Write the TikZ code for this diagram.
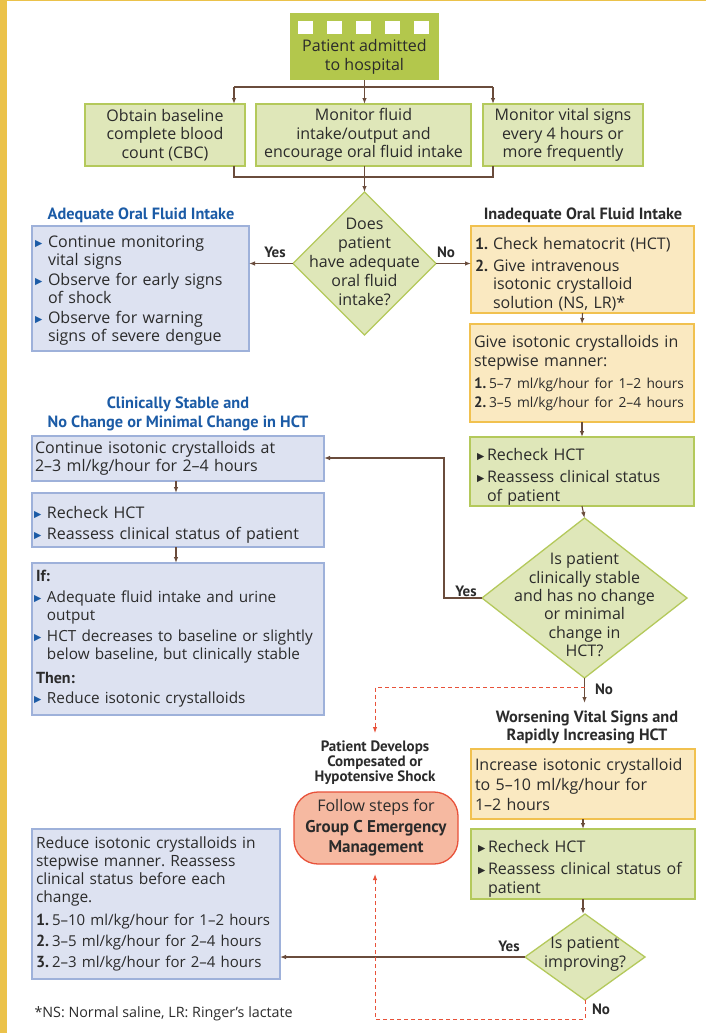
\documentclass[tikz,border=0pt]{standalone}
\usepackage{fontspec}
\setmainfont{Open Sans}[BoldFont={PT Sans Bold}]
\newfontfamily\ptbold{PT Sans Bold}
\newfontfamily\dejavu{DejaVu Sans}
\usetikzlibrary{shapes.geometric,arrows.meta,calc}
\frenchspacing
\definecolor{strip}{HTML}{EBC24A}
\definecolor{topg}{HTML}{B3C74C}
\definecolor{gfill}{HTML}{DFE7B9}
\definecolor{gline}{HTML}{B4C95B}
\definecolor{bfill}{HTML}{DDE2F1}
\definecolor{bline}{HTML}{9EB1DA}
\definecolor{yfill}{HTML}{FAE9C1}
\definecolor{yline}{HTML}{F1C14F}
\definecolor{rfill}{HTML}{F6B9A1}
\definecolor{rline}{HTML}{E8523A}
\definecolor{arrc}{HTML}{6A4C3C}
\definecolor{txtc}{HTML}{2B2B2B}
\definecolor{tblue}{HTML}{1B5BA6}
\newcommand{\bB}{\textcolor{tblue}{\dejavu\fontsize{9.5}{9.5}\selectfont\raisebox{1pt}{▶}}}
\newcommand{\bK}{\textcolor{txtc}{\dejavu\fontsize{9.5}{9.5}\selectfont\raisebox{1pt}{▶}}}
\newcommand{\hitem}[3]{\par\hangindent=#1\hangafter=1\noindent\makebox[#1][l]{#2}#3}
\begin{document}
\begin{tikzpicture}[x=1pt,y=-1pt,
  base/.style={inner sep=0pt,outer sep=0pt,line width=1.3pt},
  gbox/.style={base,rectangle,draw=gline,fill=gfill},
  bbox/.style={base,rectangle,draw=bline,fill=bfill},
  ybox/.style={base,rectangle,draw=yline,fill=yfill},
  rbox/.style={base,rectangle,rounded corners=24pt,draw=rline,fill=rfill},
  dia/.style={base,diamond,draw=gline,fill=gfill},
  txt/.style={font=\fontsize{16}{18.5}\selectfont,text=txtc},
  ttl/.style={font=\ptbold\fontsize{16.3}{18.5}\selectfont,align=center},
  lbl/.style={font=\ptbold\fontsize{15}{16}\selectfont,text=txtc},
  arr/.style={draw=arrc,line width=1.1pt,-{Latex[length=6pt,width=4.5pt]}},
  ln/.style={draw=arrc,line width=1.1pt},
  rdash/.style={draw=rline,line width=1pt,dash pattern=on 4pt off 3pt},
  rarr/.style={rdash,-{Latex[length=6pt,width=4.5pt]}},
]
\useasboundingbox (0,0) rectangle (706,1033);
\fill[white] (0,0) rectangle (706,1033);
\fill[strip] (0,0) rectangle (7,1033);
\fill[strip] (0,0) rectangle (706,1.5);

% top
\node[base,rectangle,fill=topg,minimum width=149pt,minimum height=67pt] (top) at (364.5,46.5) {};
\foreach \i in {0,...,4} \fill[white] (298+29*\i,21) rectangle ++(15,13);
\node[txt,font=\fontsize{16}{19}\selectfont,align=center] (toptxt) at (364.5,57) {Patient admitted\\to hospital};

\node[gbox,txt,minimum width=160pt,minimum height=62pt,align=center] (b1) at (165,135) {Obtain baseline\\complete blood\\count (CBC)};
\node[gbox,txt,minimum width=215pt,minimum height=62pt,align=center] (b2) at (363.5,135) {Monitor fluid\\intake/output and\\encourage oral fluid intake};
\node[gbox,txt,minimum width=160pt,minimum height=62pt,align=center] (b3) at (563,135) {Monitor vital signs\\every 4 hours or\\more frequently};

\coordinate (jt) at (364.5,87); \coordinate (jl) at (234,87); \coordinate (jr) at (493,87);
\draw[ln] (top.south) -- (jt);
\draw[ln] (jl) -- (jr);
\draw[arr] (jl) -- (jl |- b1.north);
\draw[arr] (jt) -- (jt |- b2.north);
\draw[arr] (jr) -- (jr |- b3.north);

% diamond 1
\node[dia,minimum width=143pt,minimum height=143pt] (d1) at (364.5,263.5) {};
\node[txt,font=\fontsize{16}{19}\selectfont,align=center] (d1t) at (364.5,262) {Does\\patient\\have adequate\\oral fluid\\intake?};

\coordinate (ml) at (234,177); \coordinate (mr) at (493,177); \coordinate (mc) at (364.5,177);
\draw[ln] (ml |- b1.south) -- (ml) -- (mr) -- (mr |- b3.south);
\draw[ln] (mc |- b2.south) -- (mc);
\draw[arr] (mc) -- (d1.north);

\node[ttl,text=tblue] (t1) at (141,215) {Adequate Oral Fluid Intake};
\node[ttl,text=txtc] (t2) at (583,215) {Inadequate Oral Fluid Intake};

\node[bbox,txt,minimum width=217pt,minimum height=125pt,text width=211pt,align=left] (bl1) at (140.5,288.5)
 {\setlength{\parskip}{1pt}\hitem{13pt}{\bB}{Continue monitoring\newline vital signs}\hitem{13pt}{\bB}{Observe for early signs\newline of shock}\hitem{13pt}{\bB}{Observe for warning\newline signs of severe dengue}\par\vspace{4pt}};

\node[ybox,txt,minimum width=223pt,minimum height=87pt,text width=215pt,align=left] (y1) at (582.5,269.5)
 {\setlength{\parskip}{3pt}\hitem{18pt}{\textbf{1.}}{Check hematocrit (HCT)}\hitem{18pt}{\textbf{2.}}{Give intravenous\newline isotonic crystalloid\newline solution (NS, LR)*}\par};

\draw[arr] (d1.west) -- (d1.west -| bl1.east);
\node[lbl] (yes1) at (275,252) {Yes};
\draw[arr] (d1.east) -- (d1.east -| y1.west);
\node[lbl] (no1) at (446,252) {No};

\node[ybox,txt,minimum width=224pt,minimum height=98pt,text width=216pt,align=left] (y2) at (582,373)
 {\setlength{\parskip}{0pt}Give isotonic crystalloids in\newline stepwise manner:\par\vspace{3pt}{\fontsize{13.8}{19}\selectfont\hitem{15pt}{\fontsize{15}{19}\selectfont\textbf{1.}}{5–7 ml/kg/hour for 1–2 hours}\hitem{15pt}{\fontsize{15}{19}\selectfont\textbf{2.}}{3–5 ml/kg/hour for 2–4 hours}\par}};

\node[gbox,txt,minimum width=224pt,minimum height=69pt,text width=210pt,align=left] (g2) at (582,471.5)
 {\setlength{\parskip}{4pt}\hitem{10pt}{\bK}{Recheck HCT}\hitem{10pt}{\bK}{Reassess clinical status\newline of patient}\par};

\node[dia,minimum width=205pt,minimum height=160pt] (d2) at (584.5,598) {};
\node[txt,font=\fontsize{16}{18.4}\selectfont,align=center] (d2t) at (584.5,605) {Is patient\\clinically stable\\and has no change\\or minimal\\change in\\HCT?};

\draw[arr] (y1.south) -- (y2.north);
\draw[arr] (y2.south) -- (g2.north);
\draw[arr] (g2.south) -- (d2.north);

% left column
\node[ttl,text=tblue] (t3) at (178,414) {Clinically Stable and\\No Change or Minimal Change in HCT};
\node[bbox,txt,minimum width=292pt,minimum height=45pt,text width=286pt,align=left] (bl2) at (178,458.5)
 {Continue isotonic crystalloids at\newline 2–3 ml/kg/hour for 2–4 hours};
\node[bbox,txt,minimum width=292pt,minimum height=54pt,text width=288pt,align=left] (bl3) at (178,520)
 {\setlength{\parskip}{2.5pt}\hitem{13pt}{\bB}{Recheck HCT}\hitem{13pt}{\bB}{Reassess clinical status of patient}\par};
\node[bbox,txt,font=\fontsize{15.3}{18.2}\selectfont,minimum width=292pt,minimum height=152pt,text width=288pt,align=left] (bl4) at (178,639)
 {\setlength{\parskip}{2.5pt}\noindent\hspace{2pt}{\fontsize{16}{18}\selectfont\textbf{If:}}\hitem{13pt}{\bB}{Adequate fluid intake and urine\newline output}\hitem{13pt}{\bB}{HCT decreases to baseline or slightly\newline below baseline, but clinically stable}\par\vspace{3pt}\noindent\hspace{2pt}{\fontsize{16}{18}\selectfont\textbf{Then:}}\hitem{13pt}{\bB}{Reduce isotonic crystalloids}\par};
\draw[arr] (bl2.south -| 176,0) -- (bl3.north -| 176,0);
\draw[arr] (bl3.south -| 176,0) -- (bl4.north -| 176,0);

\coordinate (yc) at (444,458);
\draw[arr] (d2.west) -| (yc) -- (yc -| bl2.east);
\node[lbl] (yes2) at (466,591) {Yes};

\coordinate (n2) at (584.5,703);
\draw[arr] (d2.south) -- (n2);
\node[lbl] (no2) at (604,689) {No};
\coordinate (rj) at (584.5,687); \coordinate (sh) at (375,733);
\draw[rarr] (rj) -| (sh);

\node[ttl,text=txtc] (t4) at (587,727.5) {Worsening Vital Signs and\\Rapidly Increasing HCT};
\node[ttl,text=txtc,font=\ptbold\fontsize{15}{15}\selectfont] (t5) at (375,763) {Patient Develops\\Compesated or\\Hypotensive Shock};

\node[rbox,txt,font=\fontsize{16}{20.5}\selectfont,minimum width=164pt,minimum height=72pt,align=center] (r1) at (376,828)
 {Follow steps for\\{\fontsize{17}{20.5}\selectfont\textbf{Group C Emergency}}\\{\fontsize{17}{20.5}\selectfont\textbf{Management}}};

\node[ybox,txt,font=\fontsize{16}{20}\selectfont,minimum width=224pt,minimum height=70pt,text width=216pt,align=left] (y3) at (583,784)
 {Increase isotonic crystalloid\\to 5–10 ml/kg/hour for\\1–2 hours};
\node[gbox,txt,minimum width=224pt,minimum height=70pt,text width=210pt,align=left] (g3) at (583,864)
 {\setlength{\parskip}{3.5pt}\hitem{10pt}{\bK}{Recheck HCT}\hitem{10pt}{\bK}{Reassess clinical status of\newline patient}\par};
\node[dia,minimum width=120pt,minimum height=86pt] (d3) at (585,957) {};
\node[txt,font=\fontsize{16}{19}\selectfont,align=center] (d3t) at (585,954.5) {Is patient\\improving?};
\draw[arr] (y3.south) -- (y3.south |- g3.north);
\draw[arr] (g3.south) -- (g3.south |- d3.north);

\node[bbox,txt,font=\fontsize{15.5}{18}\selectfont,minimum width=248pt,minimum height=150pt,text width=240pt,align=left] (bl5) at (156,904)
 {\setlength{\parskip}{0pt}Reduce isotonic crystalloids in\newline stepwise manner. Reassess\newline clinical status before each\newline change.\par\vspace{2pt}{\fontsize{15}{21}\selectfont\hitem{16pt}{\fontsize{16}{21}\selectfont\textbf{1.}}{5–10 ml/kg/hour for 1–2 hours}\hitem{16pt}{\fontsize{16}{21}\selectfont\textbf{2.}}{3–5 ml/kg/hour for 2–4 hours}\hitem{16pt}{\fontsize{16}{21}\selectfont\textbf{3.}}{2–3 ml/kg/hour for 2–4 hours}\par}};

\draw[arr] (d3.west) -- (d3.west -| bl5.east);
\node[lbl] (yes3) at (509,946) {Yes};

\coordinate (n3a) at (585,1019); \coordinate (n3b) at (375,1019);
\draw[rarr,shorten >=10pt] (d3.south) -- (n3a) -- (n3b) -- (n3b |- r1.south);
\node[lbl] (no3) at (601,1009) {No};

\node[txt,font=\fontsize{14.3}{15}\selectfont,anchor=west] (fn) at (31,1014) {*NS: Normal saline, LR: Ringer’s lactate};
\end{tikzpicture}
\end{document}
